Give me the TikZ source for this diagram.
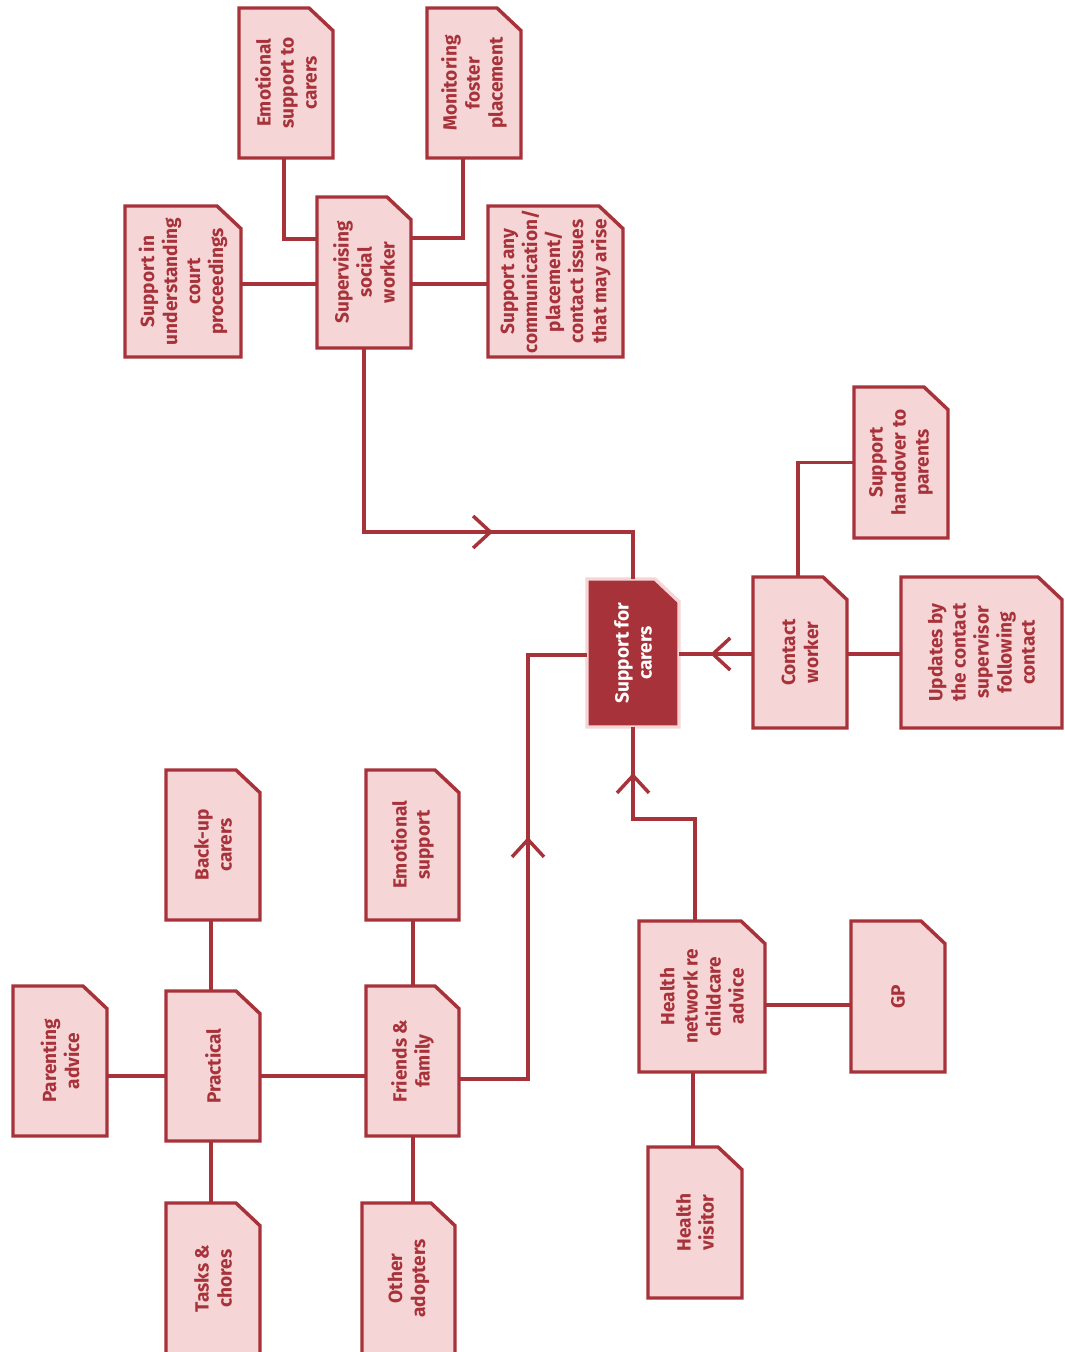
\documentclass[tikz,border=0pt]{standalone}
\usepackage{fontspec}
\setmainfont{Fira Sans}
\usetikzlibrary{arrows.meta,decorations.markings,calc}

\definecolor{wine}{HTML}{A8323A}
\definecolor{blush}{HTML}{F5D5D5}

\tikzset{
  x=0.75pt, y=-0.75pt,
  link/.style={draw=wine, line width=2.6pt},
  cardedge/.style={draw=wine, fill=blush, line width=2.6pt, line join=miter},
  hubedge/.style={draw=blush, fill=wine, line width=2.6pt, line join=miter},
  cardframe/.style={rectangle, inner sep=0pt, outer sep=0pt},
  cardtext/.style={rotate=90, align=center, text=wine,
    font=\bfseries\fontsize{14.3}{17.3}\selectfont},
  hubtext/.style={cardtext, text=white},
  midtip/.style={postaction={decorate, decoration={markings,
    mark=at position #1 with {\arrow{Straight Barb[length=13pt,width=24pt,line width=2.6pt]}}}}}
}

% \card[edge style]{name}{x1}{y1}{x2}{y2}: a sheet with a clipped top-right corner
\newcommand\card[6][cardedge]{%
  \node[cardframe, minimum width={(#5-#3)*0.75pt}, minimum height={(#6-#4)*0.75pt}]
    (#2) at ({(#3+#5)/2},{(#4+#6)/2}) {};
  \path[#1] (#2.south west) -- (#2.north west) -- ([xshift=-18pt]#2.north east)
    -- ([yshift=-17pt]#2.north east) -- (#2.south east) -- cycle;
}

\begin{document}
\begin{tikzpicture}
\useasboundingbox (0,0) rectangle (1064,1352);

% ---- sheets ----
\card{esc}{239}{8}{333}{158}
\card{mfp}{427}{8}{521}{158}
\card{court}{125}{206}{241}{357}
\card{ssw}{317}{197}{411}{348}
\card{comm}{488}{206}{623}{357}
\card{sho}{854}{387}{948}{538}
\card[hubedge]{hub}{587}{579}{679}{727}
\card{cw}{753}{577}{847}{728}
\card{upd}{901}{577}{1062}{728}
\card{bu}{166}{770}{260}{920}
\card{es}{366}{770}{459}{920}
\card{hn}{639}{921}{765}{1072}
\card{gp}{851}{921}{945}{1072}
\card{par}{13}{986}{107}{1136}
\card{prac}{166}{991}{260}{1141}
\card{ff}{366}{986}{459}{1136}
\card{tc}{166}{1203}{260}{1358}
\card{oa}{362}{1203}{455}{1358}
\card{hv}{648}{1147}{742}{1298}

% ---- links between named sheets ----
\draw[link] ($(esc.south west)+(45,0)$) |- (ssw.west |- 0,239);
\draw[link] ($(mfp.south west)+(36,0)$) |- (ssw.east |- 0,238);
\draw[link] (court.east |- 0,284) -- (ssw.west |- 0,284);
\draw[link] (ssw.east |- 0,284) -- (comm.west |- 0,284);
\draw[link, midtip=234.75pt] (ssw.south) -- (ssw.south |- 0,532) -| (hub.north);

\draw[link, midtip=32pt] (cw.west |- 0,654) -- (hub.east |- 0,654);
\draw[link] (cw.east |- 0,654) -- (upd.west |- 0,654);
\draw[link] ($(cw.north west)+(45,0)$) |- (sho.west);

\draw[link, midtip=157.5pt] ($(hn.north west)+(56,0)$) -- ++(0,-102) -| (hub.south);
\draw[link] (hn.east |- 0,1005) -- (gp.west |- 0,1005);
\draw[link] ($(hn.south west)+(54,0)$) -- ($(hv.north west)+(45,0)$);

\draw[link, midtip=233.25pt] (ff.east |- 0,1079) -- ++(69,0) |- (hub.west |- 0,655);
\draw[link] (prac.east |- 0,1076) -- (ff.west |- 0,1076);
\draw[link] (par.east |- 0,1076) -- (prac.west |- 0,1076);
\draw[link] ($(prac.north west)+(45,0)$) -- ($(bu.south west)+(45,0)$);
\draw[link] ($(prac.south west)+(45,0)$) -- ($(tc.north west)+(45,0)$);
\draw[link] ($(ff.north west)+(47,0)$) -- ($(es.south west)+(47,0)$);
\draw[link] ($(ff.south west)+(47,0)$) -- ($(oa.north west)+(51,0)$);

% ---- texts ----
\node[cardtext] at (esc.center) {Emotional\\support to\\carers};
\node[cardtext] at (mfp.center) {Monitoring\\foster\\placement};
\node[cardtext] at (court.center) {Support in\\understanding\\court\\proceedings};
\node[cardtext] at (ssw.center) {Supervising\\social\\worker};
\node[cardtext] at (comm.center) {Support any\\communication/\\placement/\\contact issues\\that may arise};
\node[cardtext] at (sho.center) {Support\\handover to\\parents};
\node[hubtext] at (hub.center) {Support for\\carers};
\node[cardtext] at (cw.center) {Contact\\worker};
\node[cardtext] at (upd.center) {Updates by\\the contact\\supervisor\\following\\contact};
\node[cardtext] at (bu.center) {Back-up\\carers};
\node[cardtext] at (es.center) {Emotional\\support};
\node[cardtext] at (hn.center) {Health\\network re\\childcare\\advice};
\node[cardtext] at (gp.center) {GP};
\node[cardtext] at (par.center) {Parenting\\advice};
\node[cardtext] at (prac.center) {Practical};
\node[cardtext] at (ff.center) {Friends \&\\family};
\node[cardtext] at ($(tc.center)+(0,-2)$) {Tasks \&\\chores};
\node[cardtext] at ($(oa.center)+(0,-2)$) {Other\\adopters};
\node[cardtext] at (hv.center) {Health\\visitor};
\end{tikzpicture}
\end{document}
